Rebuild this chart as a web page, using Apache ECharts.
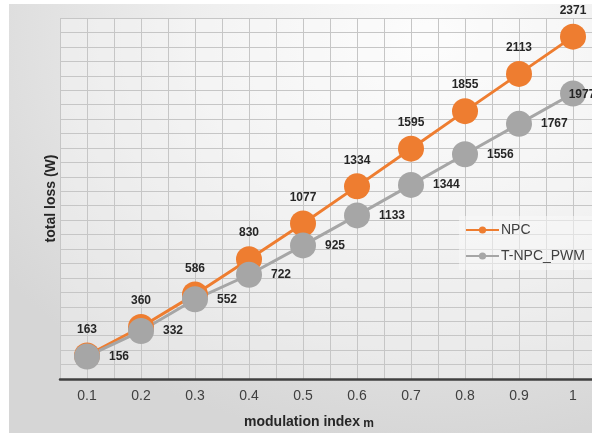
<!DOCTYPE html>
<html>
<head>
<meta charset="utf-8">
<script src="https://cdn.jsdelivr.net/npm/echarts@6/dist/echarts.min.js"></script>
<style>
  html, body { margin: 0; padding: 0; background: #ffffff; overflow: hidden; }
  #wrap { position: relative; width: 592px; height: 433px; background: #ffffff; overflow: hidden; }
  #bg { position: absolute; left: 9px; top: 4px; right: 0; bottom: 0;
        background: radial-gradient(ellipse 90% 95% at 72% 8%, #fbfbfb 0%, #eeeeee 45%, #dcdcdc 85%, #d6d6d6 100%); }
  /* the plot runs a little past the right edge of the visible frame */
  #chart { position: absolute; left: 0; top: 0; width: 600px; height: 433px; }
</style>
</head>
<body>
<div id="wrap">
  <div id="bg"></div>
  <div id="chart"></div>
</div>
<script>
// Modulation index categories and total loss of each converter (W)
const categories = ['0.1', '0.2', '0.3', '0.4', '0.5', '0.6', '0.7', '0.8', '0.9', '1'];
const npcLoss = [163, 360, 586, 830, 1077, 1334, 1595, 1855, 2113, 2371];
const tnpcLoss = [156, 332, 552, 722, 925, 1133, 1344, 1556, 1767, 1977];
const seriesNames = ['NPC', 'T-NPC_PWM'];

const FONT = '"Liberation Sans", Arial, sans-serif';
const ORANGE = '#ee7d30';
const GREY = '#a6a6a6';
const GRIDLINE = '#c6c6c6';

const chart = echarts.init(document.getElementById('chart'), null, { renderer: 'canvas' });

// The last grey point sits at the right border, so its label is pulled back over the marker
const tnpcData = tnpcLoss.map((v, i) => i === tnpcLoss.length - 1
  ? { value: v, label: { position: 'inside', offset: [9, 1] } }
  : v);

chart.setOption({
  backgroundColor: 'transparent',
  animation: false,
  textStyle: { fontFamily: FONT },
  grid: {
    left: 60, top: 18, right: 0, bottom: 54,
    outerBoundsMode: 'none',
    backgroundColor: 'rgba(255,255,255,0.35)', show: true, borderWidth: 0
  },
  legend: {
    orient: 'vertical',
    left: 459,
    top: 216,
    padding: [7, 10, 7, 6],
    backgroundColor: 'rgba(248,248,248,0.55)',
    itemWidth: 33,
    itemHeight: 9,
    itemGap: 12,
    textStyle: { fontFamily: FONT, fontSize: 14, color: '#404040', padding: [0, 0, 0, -3] },
    data: seriesNames
  },
  xAxis: [
    {
      type: 'category',
      data: categories,
      boundaryGap: true,
      axisLine: { show: true, lineStyle: { color: '#404040', width: 2.5 } },
      axisTick: { show: false },
      splitLine: { show: false },
      axisLabel: { fontFamily: FONT, fontSize: 14, color: '#404040', margin: 10 },
      name: '{a|modulation index} {b|m}',
      nameLocation: 'middle',
      nameGap: 35,
      nameTextStyle: {
        padding: [0, 42, 0, 0],
        rich: {
          a: { fontFamily: FONT, fontSize: 14, lineHeight: 16, fontWeight: 'bold', color: '#262626' },
          b: { fontFamily: FONT, fontSize: 12, lineHeight: 15, fontWeight: 'bold', color: '#262626', verticalAlign: 'bottom' }
        }
      }
    },
    {
      // half-band vertical gridlines
      type: 'value',
      position: 'top',
      min: 0,
      max: 20,
      interval: 1,
      axisLine: { show: false },
      axisTick: { show: false },
      axisLabel: { show: false },
      splitLine: { show: true, lineStyle: { color: GRIDLINE, width: 1 } }
    }
  ],
  yAxis: {
    type: 'value',
    min: 0,
    max: 2500,
    interval: 100,
    axisLine: { show: false },
    axisTick: { show: false },
    axisLabel: { show: false },
    splitLine: { show: true, lineStyle: { color: GRIDLINE, width: 1 } },
    name: 'total loss (W)',
    nameLocation: 'middle',
    nameGap: 2,
    nameTextStyle: { fontFamily: FONT, fontSize: 14, fontWeight: 'bold', color: '#262626' }
  },
  series: [
    {
      name: seriesNames[0],
      type: 'line',
      xAxisIndex: 0,
      data: npcLoss,
      symbol: 'circle',
      symbolSize: 26,
      lineStyle: { color: ORANGE, width: 3 },
      itemStyle: { color: ORANGE },
      label: { show: true, position: 'top', distance: 7, fontFamily: FONT, fontSize: 12, fontWeight: 'bold', color: '#262626' }
    },
    {
      name: seriesNames[1],
      type: 'line',
      xAxisIndex: 0,
      data: tnpcData,
      symbol: 'circle',
      symbolSize: 26,
      lineStyle: { color: GREY, width: 3 },
      itemStyle: { color: GREY },
      label: { show: true, position: 'right', distance: 9, fontFamily: FONT, fontSize: 12, fontWeight: 'bold', color: '#262626' }
    }
  ]
});
</script>
</body>
</html>
